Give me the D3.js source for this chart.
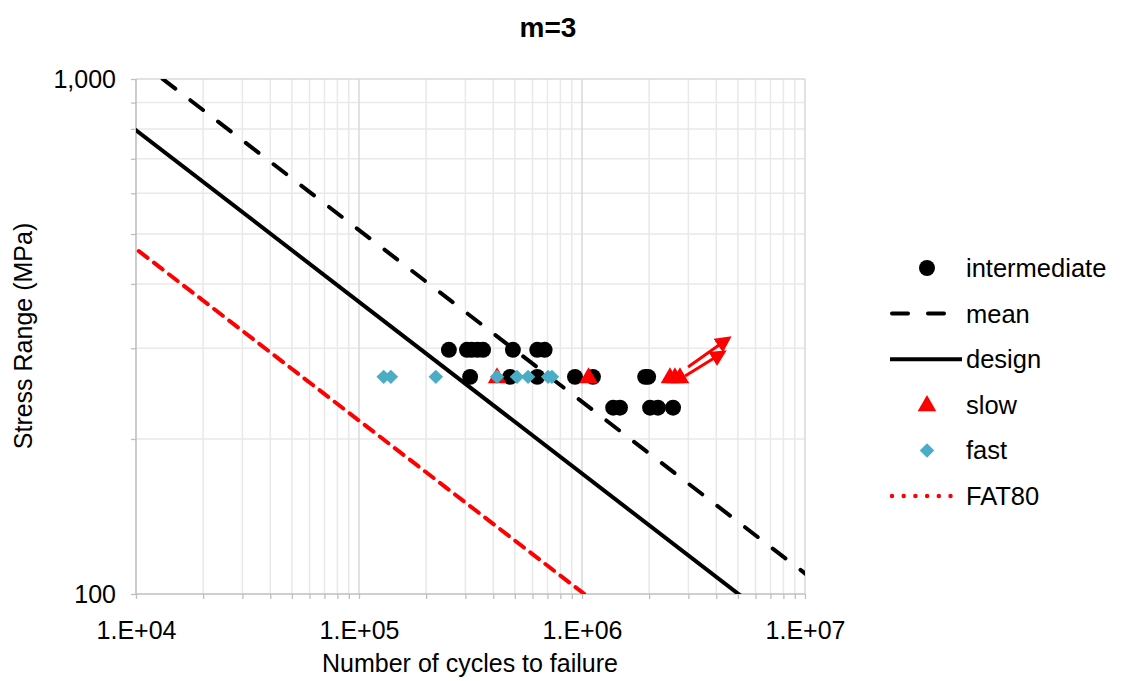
<!DOCTYPE html>
<html>
<head>
<meta charset="utf-8">
<script src="https://cdn.jsdelivr.net/npm/d3@7"></script>
<style>
  body { margin: 0; background: #fff; }
  text { font-family: "Liberation Sans", Arial, sans-serif; fill: #000; }
</style>
</head>
<body>
<svg width="1121" height="681"></svg>
<script>
// data: N = cycles to failure, S = stress range (MPa)
var intermediateN = [2.53e5, 3.05e5, 3.2e5, 3.4e5, 3.6e5, 4.9e5, 6.3e5, 6.8e5,
                     3.15e5, 4.76e5, 6.3e5, 9.3e5, 1.12e6, 1.92e6, 1.98e6,
                     1.38e6, 1.48e6, 2.02e6, 2.19e6, 2.56e6];
var intermediateS = [298, 298, 298, 298, 298, 298, 298, 298,
                     264, 264, 264, 264, 264, 264, 264,
                     230, 230, 230, 230, 230];
var slowN = [4.16e5, 1.07e6, 2.48e6, 2.61e6, 2.75e6];
var slowS = [264, 264, 264, 264, 264];
var fastN = [1.29e5, 1.39e5, 2.21e5, 4.16e5, 5.11e5, 5.73e5, 7.05e5, 7.33e5];
var fastS = [264, 264, 264, 264, 264, 264, 264, 264];

// S-N curves, slope m=3, defined by their stress range at 2e6 cycles
var curveNames = ["mean", "design", "FAT80"];
var curveFAT = [187.5, 136, 80];
var slopeM = 3;

// run-out arrows [N0, S0, N1, S1]
var arrows = [[2.99e6, 276, 4.56e6, 314], [2.90e6, 265, 4.33e6, 295]];

var xTicks = [1e4, 1e5, 1e6, 1e7];
var yTicks = [100, 1000];
var legendNames = ["intermediate", "mean", "design", "slow", "fast", "FAT80"];

var svg = d3.select("svg");
var x = d3.scaleLog().domain([1e4, 1e7]).range([136, 805]);
var y = d3.scaleLog().domain([100, 1000]).range([594, 79]);

var red = "#ff0000", teal = "#4bacc6";

// grid
var minorX = [], minorY = [];
[1e4, 1e5, 1e6].forEach(function(d) {
  for (var k = 2; k <= 9; k++) minorX.push(d * k);
});
for (var k = 2; k <= 9; k++) minorY.push(100 * k);

var grid = svg.append("g");
grid.selectAll(".gx").data(minorX).enter().append("line")
    .attr("x1", function(d) { return x(d); }).attr("x2", function(d) { return x(d); })
    .attr("y1", y(1000)).attr("y2", y(100))
    .attr("stroke", "#e9e9e9").attr("stroke-width", 1.5);
grid.selectAll(".gy").data(minorY).enter().append("line")
    .attr("y1", function(d) { return y(d); }).attr("y2", function(d) { return y(d); })
    .attr("x1", x(1e4)).attr("x2", x(1e7))
    .attr("stroke", "#e9e9e9").attr("stroke-width", 1.5);
grid.selectAll(".mx").data(xTicks.slice(1)).enter().append("line")
    .attr("x1", function(d) { return x(d); }).attr("x2", function(d) { return x(d); })
    .attr("y1", y(1000)).attr("y2", y(100))
    .attr("stroke", "#d9d9d9").attr("stroke-width", 1.5);
grid.append("line")
    .attr("x1", x(1e4)).attr("x2", x(1e7)).attr("y1", y(1000)).attr("y2", y(1000))
    .attr("stroke", "#d9d9d9").attr("stroke-width", 1.5);

// axes
var xAxis = d3.axisBottom(x).tickValues(xTicks.concat(minorX))
    .tickSize(5)
    .tickFormat(function(d) { return xTicks.indexOf(d) >= 0 ? "1.E+" + d3.format("02")(Math.log10(d)) : ""; });
var gx = svg.append("g").attr("transform", "translate(0," + y(100) + ")").call(xAxis);
gx.selectAll(".tick line").attr("stroke", "#bfbfbf").attr("stroke-width", 1.3);
gx.selectAll(".tick text").attr("font-size", 25).attr("y", 22).attr("dy", "0.9em")
    .style("font-family", "Liberation Sans, Arial, sans-serif");

var yAxis = d3.axisLeft(y).tickValues(yTicks.concat(minorY))
    .tickSize(5)
    .tickFormat(function(d) { return yTicks.indexOf(d) >= 0 ? d3.format(",")(d) : ""; });
var gy = svg.append("g").attr("transform", "translate(" + x(1e4) + ",0)").call(yAxis);
gy.selectAll(".tick line").attr("stroke", "#bfbfbf").attr("stroke-width", 1.3);
gy.selectAll(".tick text").attr("font-size", 25).attr("x", -20)
    .style("font-family", "Liberation Sans, Arial, sans-serif");
svg.selectAll(".domain").remove();
gx.append("line").attr("x1", x(1e4)).attr("x2", x(1e7)).attr("stroke", "#bfbfbf").attr("stroke-width", 1.6);
gy.append("line").attr("y1", y(1000)).attr("y2", y(100)).attr("stroke", "#bfbfbf").attr("stroke-width", 1.6);

// S-N curves
svg.append("clipPath").attr("id", "plot").append("rect")
    .attr("x", x(1e4)).attr("y", y(1000))
    .attr("width", x(1e7) - x(1e4)).attr("height", y(100) - y(1000));

function curveS(fat, n) { return fat * Math.pow(2e6 / n, 1 / slopeM); }
var curveStyle = {
  mean:   {stroke: "#000", dash: "16,19"},
  design: {stroke: "#000", dash: null},
  FAT80:  {stroke: red, dash: "11,8"}
};
var curves = svg.append("g").attr("clip-path", "url(#plot)");
curveNames.forEach(function(name, i) {
  var pts = [1e3, 1e8].map(function(n) { return [n, curveS(curveFAT[i], n)]; });
  curves.append("path")
      .attr("d", d3.line().x(function(d) { return x(d[0]); }).y(function(d) { return y(d[1]); })(pts))
      .attr("fill", "none")
      .attr("stroke", curveStyle[name].stroke)
      .attr("stroke-width", 4)
      .attr("stroke-dasharray", curveStyle[name].dash)
      .attr("stroke-linecap", curveStyle[name].dash ? "round" : "butt");
});

// points
var circleSym = d3.symbol().type(d3.symbolCircle).size(200);
var triSym = d3.symbol().type(d3.symbolTriangle).size(150);
var diaSym = d3.symbol().type(d3.symbolSquare).size(105);

svg.append("g").selectAll("path").data(d3.zip(intermediateN, intermediateS)).enter().append("path")
    .attr("d", circleSym)
    .attr("transform", function(d) { return "translate(" + x(d[0]) + "," + y(d[1]) + ")"; })
    .attr("fill", "#000");
svg.append("g").selectAll("path").data(d3.zip(slowN, slowS)).enter().append("path")
    .attr("d", triSym)
    .attr("transform", function(d) { return "translate(" + x(d[0]) + "," + (y(d[1]) + 1) + ")"; })
    .attr("fill", red);
svg.append("g").selectAll("path").data(d3.zip(fastN, fastS)).enter().append("path")
    .attr("d", diaSym)
    .attr("transform", function(d) { return "translate(" + x(d[0]) + "," + y(d[1]) + ") rotate(45)"; })
    .attr("fill", teal);

// arrows
svg.append("defs").append("marker")
    .attr("id", "head").attr("viewBox", "0 0 10 10")
    .attr("refX", 8).attr("refY", 5)
    .attr("markerWidth", 5.5).attr("markerHeight", 5.5)
    .attr("markerUnits", "strokeWidth")
    .attr("orient", "auto")
  .append("path").attr("d", "M0,0L10,5L0,10z").attr("fill", red);
svg.append("g").selectAll("line").data(arrows).enter().append("line")
    .attr("x1", function(d) { return x(d[0]); }).attr("y1", function(d) { return y(d[1]); })
    .attr("x2", function(d) { return x(d[2]); }).attr("y2", function(d) { return y(d[3]); })
    .attr("stroke", red).attr("stroke-width", 3)
    .attr("marker-end", "url(#head)");

// title and axis titles
svg.append("text").attr("x", 548).attr("y", 37).attr("text-anchor", "middle")
    .attr("font-size", 28).attr("font-weight", "bold").text("m=3");
svg.append("text").attr("x", 470).attr("y", 672).attr("text-anchor", "middle")
    .attr("font-size", 25).text("Number of cycles to failure");
svg.append("text").attr("transform", "translate(32,336) rotate(-90)").attr("text-anchor", "middle")
    .attr("font-size", 25).text("Stress Range (MPa)");

// legend
var legend = svg.append("g").attr("transform", "translate(890,268)");
var row = legend.selectAll("g").data(legendNames).enter().append("g")
    .attr("transform", function(d, i) { return "translate(0," + i * 45.6 + ")"; });
row.append("text").attr("x", 76).attr("dy", "0.35em").attr("font-size", 25.5)
    .text(function(d) { return d; });
row.each(function(d) {
  var g = d3.select(this);
  if (d === "intermediate") g.append("path").attr("d", circleSym).attr("transform", "translate(37,0)").attr("fill", "#000");
  if (d === "slow") g.append("path").attr("d", triSym).attr("transform", "translate(37,1)").attr("fill", red);
  if (d === "fast") g.append("path").attr("d", diaSym).attr("transform", "translate(37,0) rotate(45)").attr("fill", teal);
  if (d === "mean") g.append("line").attr("x1", 2).attr("x2", 70).attr("stroke", "#000").attr("stroke-width", 4)
      .attr("stroke-dasharray", "16,20").attr("stroke-linecap", "round");
  if (d === "design") g.append("line").attr("x1", 0).attr("x2", 72).attr("stroke", "#000").attr("stroke-width", 4);
  if (d === "FAT80") g.append("line").attr("x1", 2).attr("x2", 72).attr("stroke", red).attr("stroke-width", 4.5)
      .attr("stroke-dasharray", "0,11.7").attr("stroke-linecap", "round");
});
</script>
</body>
</html>
